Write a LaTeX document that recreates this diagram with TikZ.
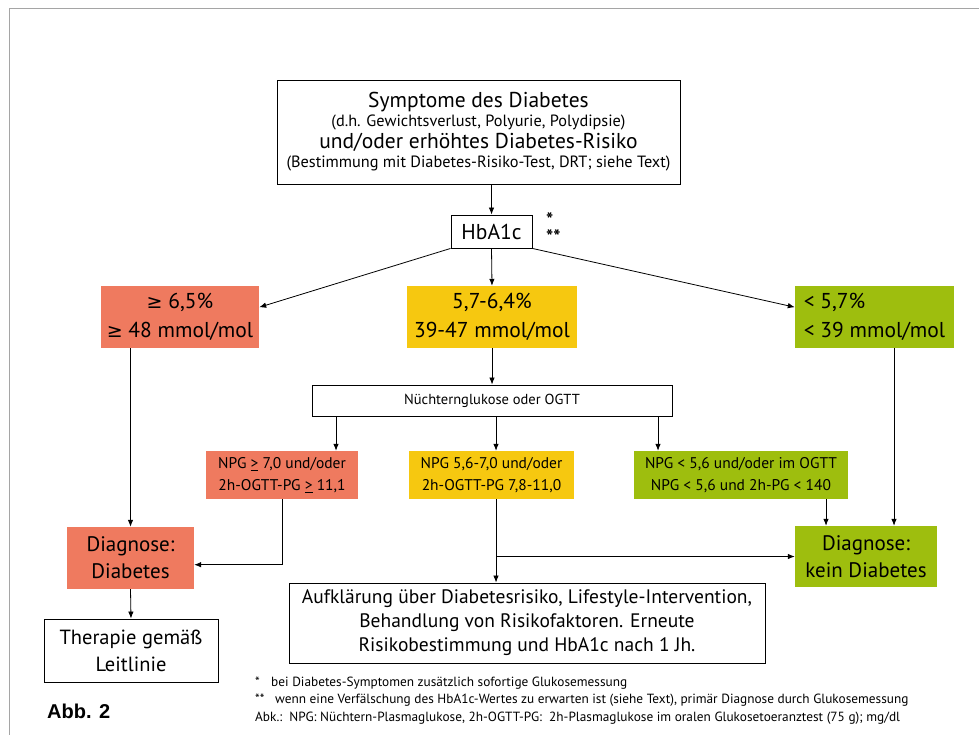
\documentclass[tikz,border=0pt]{standalone}
\usepackage{fontspec}
\setmainfont{PT Sans}
\newfontfamily\abbfont{Liberation Sans}
\newfontfamily\zeichenfont{DejaVu Sans}
\usetikzlibrary{arrows.meta}

\definecolor{rotbox}{RGB}{239,122,95}
\definecolor{gelbbox}{RGB}{246,200,16}
\definecolor{gruenbox}{RGB}{158,190,14}
\definecolor{rahmengrau}{RGB}{165,165,165}

\newcommand{\gross}{\fontsize{21.5}{29}\selectfont}
\newcommand{\mittel}{\fontsize{15.5}{22}\selectfont}
\newcommand{\grgl}{{\zeichenfont\fontsize{19}{29}\selectfont ≥}}

\begin{document}
\begin{tikzpicture}[x=1pt, y=-1pt, >={Latex[length=7pt,width=5.5pt]},
    wbox/.style={draw, line width=0.9pt, inner sep=0pt, align=center},
    rbox/.style={fill=rotbox, inner sep=0pt, align=center},
    ybox/.style={fill=gelbbox, inner sep=0pt, align=center},
    gbox/.style={fill=gruenbox, inner sep=0pt, align=center},
    stern/.style={anchor=north west, inner sep=0pt, text height=8pt, text depth=0pt, font=\bfseries\fontsize{19}{16}\selectfont},
    pfeil/.style={->, line width=0.8pt}]
    \useasboundingbox (0,0) rectangle (979,735);
    \draw[rahmengrau, line width=1pt] (9,735) -- (9,9) -- (979,9);

    % obere Ebene
    \node[wbox, minimum width=403, minimum height=104, font=\fontsize{21.5}{19}\selectfont] (sympt) at (478.5,132)
        {Symptome des Diabetes\\
         {\fontsize{16.3}{19}\selectfont (d.h. Gewichtsverlust, Polyurie, Polydipsie)}\\[3pt]
         und/oder erhöhtes Diabetes-Risiko\\
         {\fontsize{16.3}{19}\selectfont (Bestimmung mit Diabetes-Risiko-Test, DRT; siehe Text)}};
    \node[wbox, minimum width=81, minimum height=33, font=\gross] (hba) at (491.5,231.5) {HbA1c};
    \node[stern] (stern1) at (546,218) {*};
    \node[stern] (stern2) at (546,235) {**};

    % HbA1c-Bereiche
    \node[rbox, minimum width=158, minimum height=62, font=\gross] (hbaR) at (180,317)
        {\grgl\ 6,5\%\\\grgl\ 48 mmol/mol};
    \node[ybox, minimum width=170, minimum height=62, font=\gross] (hbaY) at (492,317)
        {5,7-6,4\%\\39-47 mmol/mol};
    \node[gbox, minimum width=159, minimum height=62, align=left, font=\gross] (hbaG) at (874.5,317)
        {< 5,7\%\\< 39 mmol/mol};

    \node[wbox, minimum width=360, minimum height=31, font=\fontsize{14.5}{17}\selectfont] (nuecht) at (492,400.5)
        {Nüchternglukose oder OGTT};

    % Glukosemessung
    \node[rbox, minimum width=152, minimum height=48, font=\mittel] (npgR) at (282,475)
        {NPG \underline{>} 7,0 und/oder\\2h-OGTT-PG \underline{>} 11,1};
    \node[ybox, minimum width=165, minimum height=48, font=\mittel] (npgY) at (491.5,475)
        {NPG 5,6-7,0 und/oder\\2h-OGTT-PG 7,8-11,0};
    \node[gbox, minimum width=214, minimum height=48, font=\mittel] (npgG) at (741,475)
        {NPG < 5,6 und/oder im OGTT\\NPG < 5,6 und 2h-PG < 140};

    % Diagnosen
    \node[rbox, minimum width=127, minimum height=62, font=\fontsize{21}{27}\selectfont] (diagD) at (130.5,558)
        {Diagnose:\\Diabetes};
    \node[gbox, minimum width=142, minimum height=61, font=\fontsize{21}{27}\selectfont] (kein) at (866,556.5)
        {Diagnose:\\kein Diabetes};
    \node[wbox, minimum width=174, minimum height=63, font=\fontsize{20.5}{27}\selectfont] (thera) at (131,650.5)
        {Therapie gemäß\\Leitlinie};
    \node[wbox, minimum width=476, minimum height=80, font=\fontsize{19.5}{24}\selectfont] (aufkl) at (527,623)
        {Aufklärung über Diabetesrisiko, Lifestyle-Intervention,\\Behandlung von Risikofaktoren. Erneute\\Risikobestimmung und HbA1c nach 1 Jh.};

    % Fussnoten
    \node[anchor=west, align=left, inner sep=0pt, font=\fontsize{13.3}{17.5}\selectfont] (fuss) at (255,700.5)
        {\makebox[16pt][l]{*}bei Diabetes-Symptomen zusätzlich sofortige Glukosemessung\\
         \makebox[20pt][l]{**}wenn eine Verfälschung des HbA1c-Wertes zu erwarten ist (siehe Text), primär Diagnose durch Glukosemessung\\
         Abk.:\ \ NPG: Nüchtern-Plasmaglukose, 2h-OGTT-PG:\ \ 2h-Plasmaglukose im oralen Glukosetoeranztest (75 g); mg/dl};
    \node[anchor=west, inner sep=0pt, font=\abbfont\bfseries\fontsize{20}{22}\selectfont] (abb) at (47,711) {Abb. 2};

    % Spalten der Pfeile
    \coordinate (s1) at (336,0);
    \coordinate (s2) at (496,0);
    \coordinate (s3) at (658,0);
    \coordinate (s4) at (826,0);
    \coordinate (s5) at (894,0);

    % Pfeile
    \draw[pfeil] (hba.north |- sympt.south) -- (hba.north);
    \draw[pfeil] (hba.south west) -- (hbaR.7);
    \draw[pfeil] (hba.south) -- (hbaY.north);
    \draw[pfeil] (hba.south east) -- (hbaG.173);
    \draw[pfeil] (hbaY.south) -- (nuecht.north);
    \draw[pfeil] (nuecht.south -| s1) -- (npgR.north -| s1);
    \draw[pfeil] (nuecht.south -| s2) -- (npgY.north -| s2);
    \draw[pfeil] (nuecht.south -| s3) -- (npgG.north -| s3);
    \draw[pfeil] (diagD.north |- hbaR.south) -- (diagD.north);
    \draw[pfeil] (npgR.south) |- (diagD.-6);
    \draw[pfeil] (npgY.south -| s2) -- (aufkl.north -| s2);
    \draw[pfeil] (npgY.south -| s2) |- (kein.west);
    \draw[pfeil] (npgG.south -| s4) -- (kein.north -| s4);
    \draw[pfeil] (hbaG.south -| s5) -- (kein.north -| s5);
    \draw[pfeil] (diagD.south) -- (thera.north);
\end{tikzpicture}
\end{document}
